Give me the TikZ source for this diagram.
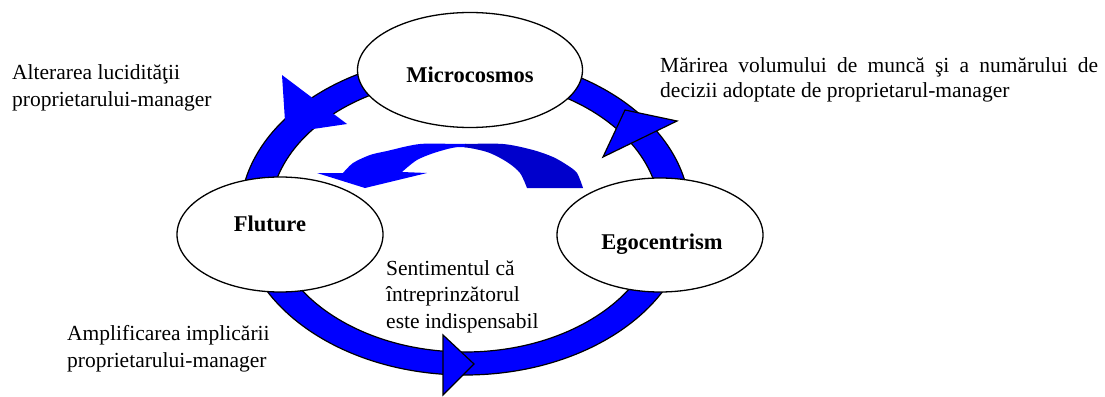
\documentclass[tikz,border=0pt]{standalone}
\usepackage{fontspec}
\setmainfont{Liberation Serif}
\usetikzlibrary{shapes.geometric}
\definecolor{ringblue}{RGB}{0,0,255}
\definecolor{darkarc}{RGB}{0,0,204}
\begin{document}
\begin{tikzpicture}[x=1pt,y=-1pt,
  bubble/.style={draw=black, line width=1.3pt, fill=white, ellipse, inner sep=0pt},
  lab/.style={font=\fontsize{22.5}{27}\selectfont\bfseries, anchor=base, inner sep=0pt},
  txt/.style={font=\fontsize{21.5}{26}\selectfont, anchor=base west, inner sep=0pt},
  ringband/.style={fill=ringblue, draw=black, line width=1.2pt},
  ringhead/.style={fill=ringblue, draw=black, line width=1.2pt, line join=miter}]
\useasboundingbox (0,0) rectangle (1105,396);
% ring
\path[ringband, even odd rule] (465,215) ellipse [x radius=225, y radius=160]
  (465,215) ellipse [x radius=195, y radius=137];
% arrowheads on the ring
\fill[ringblue] (282,75) -- (347,124) -- (313,129) -- (285,121) -- cycle;
\path[ringhead] (625,110) -- (677,121) -- (603,157) -- cycle;
\path[ringhead] (443,335) -- (474,364) -- (443,395) -- cycle;
% inner curved arrow
\def\arcpath{(317,173) -- (343,173) -- plot[smooth] coordinates {(343,173) (353,163) (370,155) (387,151) (420,144) (460,144) (503,144) (533,150) (553,157) (567,165) (577,173) (583,188)}
  -- (527,188) -- plot[smooth] coordinates {(527,188) (520,173) (507,162) (487,152) (460,147) (437,152) (417,160) (402,172)}
  -- (427,173) -- (365,188) -- cycle}
\begin{scope}
  \clip (300,120) rectangle (466,200);
  \fill[ringblue] \arcpath;
\end{scope}
\begin{scope}
  \clip (465,120) rectangle (600,200);
  \fill[darkarc] \arcpath;
\end{scope}
% ellipses
\node[bubble, minimum width=225pt, minimum height=115pt] (mic) at (470,70) {};
\node[bubble, minimum width=206pt, minimum height=115pt] (flu) at (280,234.5) {};
\node[bubble, minimum width=206pt, minimum height=114pt] (ego) at (660,235) {};
\node[lab] (micl) at (470,82) {Microcosmos};
\node[lab] (flul) at (270,231) {Fluture};
\node[lab] (egol) at (662,249) {Egocentrism};
% texts
\node[txt] (alt) at (12,79) {\baselineskip=27pt\vtop{\hbox{Alterarea lucidităţii}\hbox{proprietarului-manager}}};
\node[txt] (mar) at (660,72) {\baselineskip=25pt\vtop{\hbox to 438pt{Mărirea volumului de muncă şi a numărului de}\hbox{decizii adoptate de proprietarul-manager}}};
\node[txt] (sen) at (386,275) {\baselineskip=26.5pt\vtop{\hbox{Sentimentul că}\hbox{întreprinzătorul}\hbox{este indispensabil}}};
\node[txt] (amp) at (67,340) {\baselineskip=27pt\vtop{\hbox{Amplificarea implicării}\hbox{proprietarului-manager}}};
\end{tikzpicture}
\end{document}
